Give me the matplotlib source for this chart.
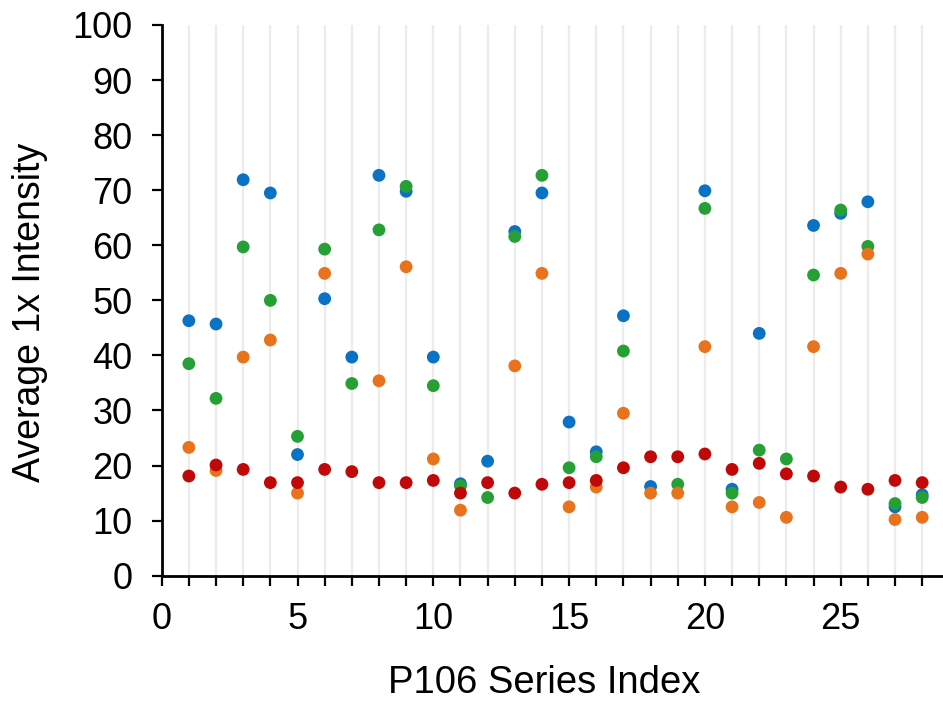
import numpy as np
import matplotlib
matplotlib.use("Agg")
import matplotlib.pyplot as plt

nan = np.nan
index = list(range(1, 30))
blue = [46.3, 45.7, 71.9, 69.5, 22.0, 50.3, 39.7, 72.7, 69.8, 39.7,
        16.7, 20.8, 62.5, 69.5, 27.9, 22.5, 47.2, 16.2, nan, 69.9,
        15.7, 44.0, nan, 63.6, 65.8, 67.9, 12.5, 14.7, 83.7]
green = [38.5, 32.2, 59.7, 50.0, 25.3, 59.3, 34.9, 62.8, 70.7, 34.5,
         16.3, 14.2, 61.6, 72.7, 19.6, 21.6, 40.8, nan, 16.6, 66.7,
         15.0, 22.8, 21.2, 54.6, 66.4, 59.8, 13.1, 14.2, 66.1]
orange = [23.3, 19.1, 39.7, 42.8, 15.0, 54.9, nan, 35.4, 56.1, 21.2,
          11.9, nan, 38.1, 54.9, 12.5, 16.1, 29.5, 15.0, 15.0, 41.6,
          12.5, 13.3, 10.6, 41.6, 54.9, 58.4, 10.2, 10.6, 25.6]
red = [18.1, 20.1, 19.3, 16.9, 16.9, 19.3, 18.9, 16.9, 16.9, 17.3,
       15.0, 16.9, 15.0, 16.6, 16.9, 17.3, 19.6, 21.6, 21.6, 22.1,
       19.3, 20.4, 18.5, 18.1, 16.1, 15.7, 17.3, 16.9, 17.4]

series = [(blue, "#0A72C4"), (green, "#26A035"), (orange, "#E8731C"), (red, "#C00808")]

plt.rcParams['font.family'] = ['Liberation Sans', 'DejaVu Sans']

fig = plt.figure(figsize=(9.43, 7.02), dpi=100)
x0 = 161.7 / 943
y0 = 126.3 / 702
h = (677 - 126.3) / 702
xmax = 30
px_per_unit = 27.16
w = xmax * px_per_unit / 943
ax = fig.add_axes([x0, y0, w, h])

for vals, col in series:
    ax.scatter(index, vals, s=85, color=col, edgecolors='none', zorder=3, clip_on=False)

ax.set_xlim(0, xmax)
ax.set_ylim(0, 100)
ax.set_xticks(range(0, xmax + 1))
ax.set_xticklabels([str(i) if (i % 5 == 0 and i < 30) else "" for i in range(0, xmax + 1)])
ax.set_yticks(range(0, 101, 10))
for i in range(1, xmax + 1):
    ax.axvline(i, color="#ececec", lw=1.6, zorder=0)

for s in ['top', 'right']:
    ax.spines[s].set_visible(False)
for s in ['left', 'bottom']:
    ax.spines[s].set_linewidth(2)
    ax.spines[s].set_color('black')
ax.tick_params(axis='both', direction='out', length=7, width=1.6, labelsize=26)
ax.tick_params(axis='y', pad=14)
ax.tick_params(axis='x', pad=12)

ax.set_xlabel("P106 Series Index", fontsize=27.5)
ax.set_ylabel("Average 1x Intensity", fontsize=27)
ax.xaxis.set_label_coords(0.470, -0.163)
ax.yaxis.set_label_coords(-0.14, 0.479)

fig.savefig("out.png", dpi=100)
